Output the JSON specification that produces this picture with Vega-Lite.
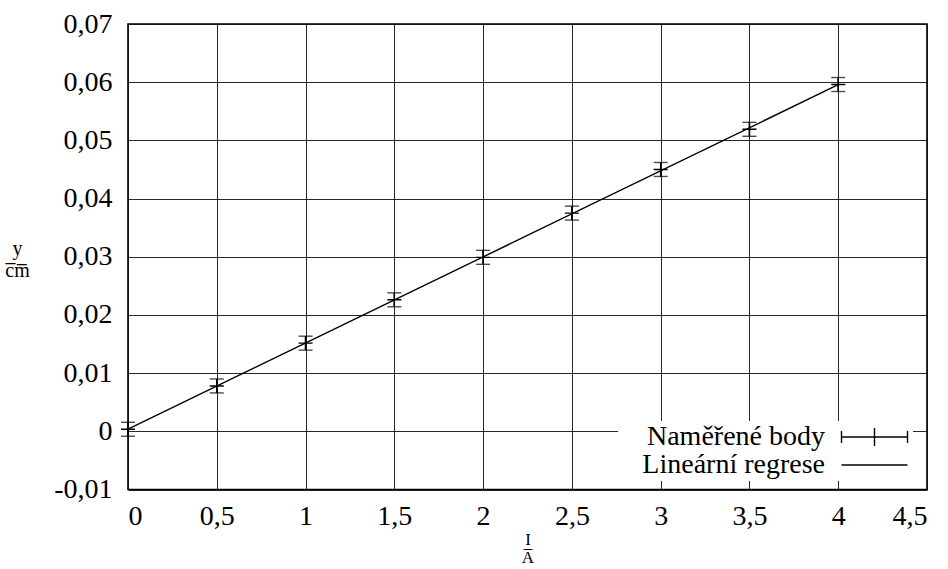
{
  "$schema": "https://vega.github.io/schema/vega-lite/v6.json",
  "width": 799,
  "height": 465.5,
  "autosize": {"type": "none"},
  "padding": {"left": 128, "top": 24, "right": 21, "bottom": 79.5},
  "background": "white",
  "config": {
    "view": {"stroke": "black", "strokeWidth": 1.6},
    "font": "Liberation Serif",
    "axis": {
      "grid": true,
      "gridColor": "#111111",
      "gridWidth": 1,
      "gridOpacity": 0.9,
      "ticks": false,
      "tickSize": 0,
      "domain": false,
      "labelFont": "Liberation Serif",
      "labelFontSize": 28,
      "labelColor": "black",
      "titleFont": "Liberation Serif",
      "titleFontSize": 20,
      "titleFontWeight": "normal",
      "titleColor": "black"
    }
  },
  "datasets": {
    "measured": [
      {"x": 0, "y": 0.00035, "err": 0.0012},
      {"x": 0.5, "y": 0.0078, "err": 0.0012},
      {"x": 1, "y": 0.01515, "err": 0.0012},
      {"x": 1.5, "y": 0.0226, "err": 0.0012},
      {"x": 2, "y": 0.0299, "err": 0.0012},
      {"x": 2.5, "y": 0.0375, "err": 0.0012},
      {"x": 3, "y": 0.045, "err": 0.0012},
      {"x": 3.5, "y": 0.0519, "err": 0.0012},
      {"x": 4, "y": 0.0596, "err": 0.0012}
    ],
    "regression": [
      {"x": 0, "y": 0.00038},
      {"x": 4, "y": 0.05957}
    ],
    "legend": [
      {"series": "Naměřené body"},
      {"series": "Lineární regrese"}
    ]
  },
  "layer": [
    {
      "data": {"name": "measured"},
      "mark": {"type": "errorbar", "color": "black", "thickness": 1.4, "ticks": {"size": 14, "thickness": 1.4, "color": "black"}},
      "encoding": {
        "x": {
          "field": "x", "type": "quantitative",
          "scale": {"domain": [0, 4.5], "nice": false, "zero": false},
          "axis": {
            "values": [0, 0.5, 1, 1.5, 2, 2.5, 3, 3.5, 4, 4.5],
            "labelExpr": "replace(format(datum.value, '.1~f'), '.', ',')",
            "labelPadding": 13,
            "title": ["I", "A̅"],
            "titleFontSize": 17,
            "titleLineHeight": 18,
            "titleBaseline": "top",
            "titleY": 42
          }
        },
        "y": {
          "field": "y", "type": "quantitative",
          "scale": {"domain": [-0.01, 0.07], "nice": false, "zero": false},
          "axis": {
            "values": [-0.01, 0, 0.01, 0.02, 0.03, 0.04, 0.05, 0.06, 0.07],
            "labelExpr": "datum.value < 0 ? '-' + replace(format(-datum.value, '.2~f'), '.', ',') : replace(format(datum.value, '.2~f'), '.', ',')",
            "labelPadding": 16,
            "title": ["y", "c̅m̅"],
            "titleFontSize": 20,
            "titleAngle": 0,
            "titleAlign": "center",
            "titleBaseline": "middle",
            "titleLineHeight": 22,
            "titleX": -111,
            "titleY": 224
          }
        },
        "yError": {"field": "err"}
      }
    },
    {
      "data": {"name": "measured"},
      "mark": {"type": "point", "shape": "M-1,0L1,0M0,-1L0,1", "size": 196, "filled": false, "color": "black", "strokeWidth": 1.4, "opacity": 1},
      "encoding": {
        "x": {"field": "x", "type": "quantitative", "scale": {"domain": [0, 4.5], "nice": false, "zero": false}},
        "y": {"field": "y", "type": "quantitative", "scale": {"domain": [-0.01, 0.07], "nice": false, "zero": false}}
      }
    },
    {
      "data": {"name": "regression"},
      "mark": {"type": "line", "color": "black", "strokeWidth": 1.4},
      "encoding": {
        "x": {"field": "x", "type": "quantitative", "scale": {"domain": [0, 4.5], "nice": false, "zero": false}},
        "y": {"field": "y", "type": "quantitative", "scale": {"domain": [-0.01, 0.07], "nice": false, "zero": false}}
      }
    },
    {
      "data": {"name": "legend"},
      "mark": {"type": "point", "opacity": 0, "filled": false, "color": "black"},
      "encoding": {
        "shape": {
          "field": "series", "type": "nominal",
          "scale": {
            "domain": ["Naměřené body", "Lineární regrese"],
            "range": [
              "M20.75,-0.6L20.75,0.6M20.75,0L27.35,0M27.35,-0.6L27.35,0.6M23.15,0L24.95,0M24.05,-0.9L24.05,0.9",
              "M20.75,0L27.35,0"
            ]
          },
          "legend": {
            "title": null,
            "orient": "none",
            "legendX": 490,
            "legendY": 397,
            "padding": 2,
            "fillColor": "white",
            "strokeColor": null,
            "symbolSize": 400,
            "symbolStrokeColor": "black",
            "symbolFillColor": "transparent",
            "symbolStrokeWidth": 1.4,
            "symbolOpacity": 1,
            "labelFont": "Liberation Serif",
            "labelFontSize": 28,
            "labelColor": "black",
            "labelAlign": "right",
            "labelOffset": 177,
            "labelLimit": 400,
            "rowPadding": -2
          }
        }
      }
    }
  ]
}
